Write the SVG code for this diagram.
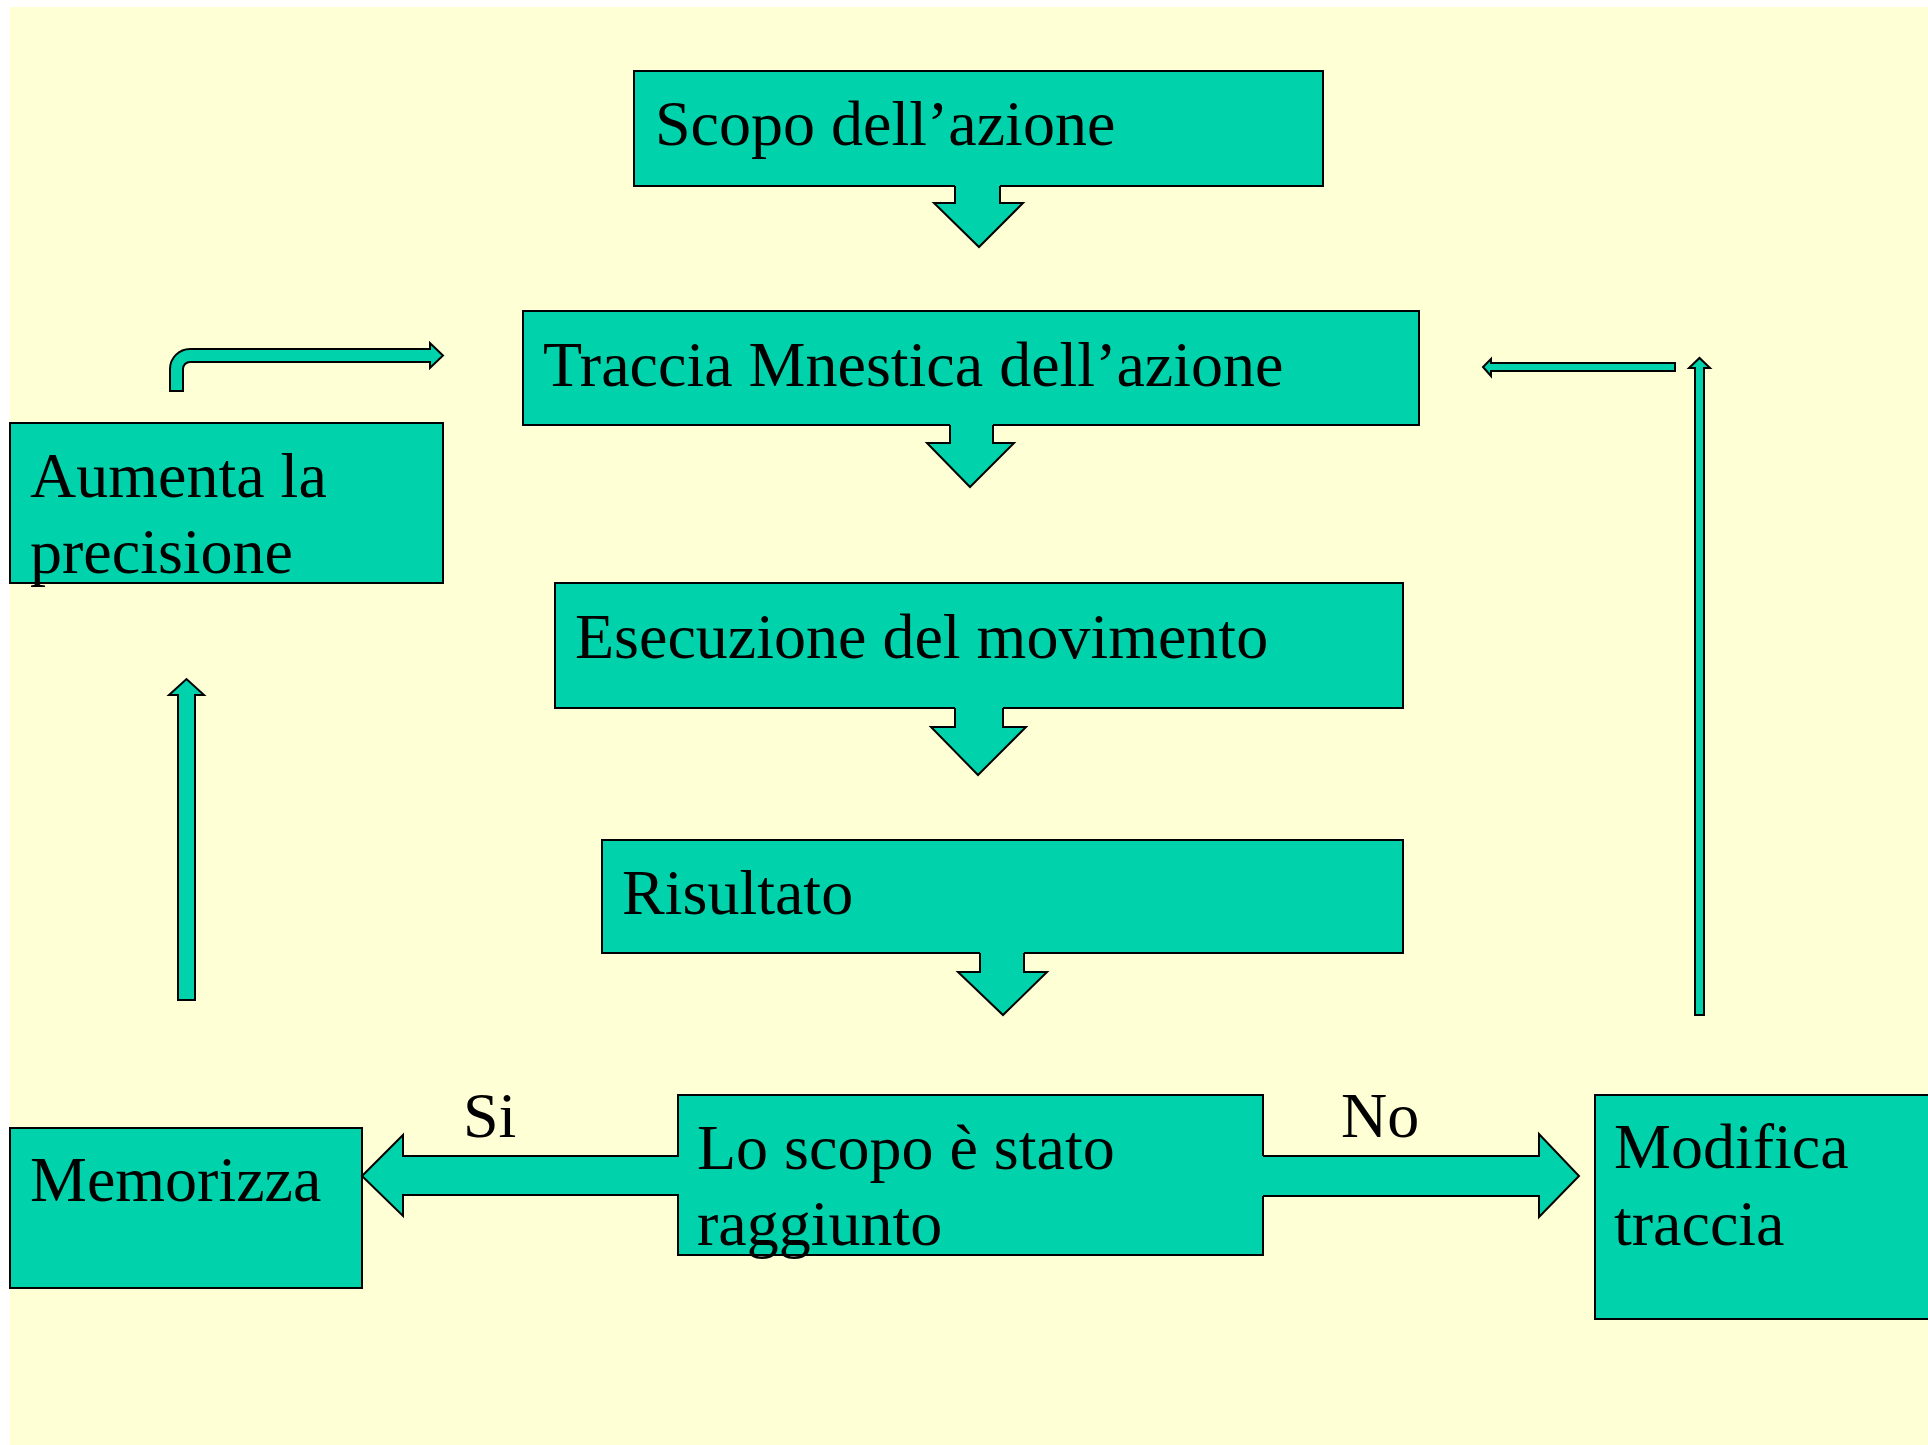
<svg xmlns="http://www.w3.org/2000/svg" width="1928" height="1445" viewBox="0 0 1928 1445">
<style>
.box{fill:#00D3AB;stroke:#000;stroke-width:2}
.fill{fill:#00D3AB;stroke:none}
.line{fill:none;stroke:#000;stroke-width:2;stroke-linejoin:miter}
.arr{fill:#00D3AB;stroke:#000;stroke-width:2;stroke-linejoin:miter}
.t{font-family:"Liberation Serif","Times New Roman",serif;font-size:64px;fill:#000}
</style>
<rect x="0" y="0" width="1928" height="1445" fill="#ffffff"/>
<rect x="10" y="7" width="1918" height="1438" fill="#FFFFD6"/>

<g id="node-scopo">
<rect class="box" x="634" y="71" width="689" height="115"/>
<text class="t" x="655" y="145">Scopo dell’azione</text>
</g>
<g id="node-traccia">
<rect class="box" x="523" y="311" width="896" height="114"/>
<text class="t" x="543" y="386">Traccia Mnestica dell’azione</text>
</g>
<g id="node-aumenta">
<rect class="box" x="10" y="423" width="433" height="160"/>
<text class="t" x="30" y="497">Aumenta la</text>
<text class="t" x="30" y="573">precisione</text>
</g>
<g id="node-esecuzione">
<rect class="box" x="555" y="583" width="848" height="125"/>
<text class="t" x="575" y="658">Esecuzione del movimento</text>
</g>
<g id="node-risultato">
<rect class="box" x="602" y="840" width="801" height="113"/>
<text class="t" x="622" y="914">Risultato</text>
</g>
<g id="node-scopo-raggiunto">
<rect class="box" x="678" y="1095" width="585" height="160"/>
</g>
<g id="node-memorizza">
<rect class="box" x="10" y="1128" width="352" height="160"/>
<text class="t" x="30" y="1201">Memorizza</text>
</g>
<g id="node-modifica">
<rect class="box" x="1595" y="1095" width="345" height="224"/>
<text class="t" x="1614" y="1168">Modifica</text>
<text class="t" x="1614" y="1245">traccia</text>
</g>

<g id="connectors">
<polygon class="fill" points="955,183 955,203 934,203 979,247 1023,203 1000,203 1000,183"/>
<polyline class="line" points="955,186 955,203 934,203 979,247 1023,203 1000,203 1000,186"/>
<polygon class="fill" points="950,422 950,443 927,443 970,487 1014,443 993,443 993,422"/>
<polyline class="line" points="950,425 950,443 927,443 970,487 1014,443 993,443 993,425"/>
<polygon class="fill" points="955,705 955,727 931,727 978,775 1026,727 1003,727 1003,705"/>
<polyline class="line" points="955,708 955,727 931,727 978,775 1026,727 1003,727 1003,708"/>
<polygon class="fill" points="980,950 980,972 958,972 1003,1015 1047,972 1024,972 1024,950"/>
<polyline class="line" points="980,953 980,972 958,972 1003,1015 1047,972 1024,972 1024,953"/>
<polygon class="fill" points="682,1156 403,1156 403,1135 362,1176 403,1216 403,1195 682,1195"/>
<polyline class="line" points="679,1156 403,1156 403,1135 362,1176 403,1216 403,1195 679,1195"/>
<polygon class="fill" points="1260,1156 1539,1156 1539,1134 1579,1176 1539,1217 1539,1196 1260,1196"/>
<polyline class="line" points="1263,1156 1539,1156 1539,1134 1579,1176 1539,1217 1539,1196 1263,1196"/>
<polygon class="arr" points="178,1000 178,695 169,695 186.5,679 204,695 195,695 195,1000"/>
<path class="arr" d="M170,391 L170,369 A20,20 0 0 1 190,349 L430,349 L430,343 L443,355.5 L430,368 L430,362 L190,362 A7,7 0 0 0 183,369 L183,391 Z"/>
<polygon class="arr" points="1695,1015 1695,368 1689,368 1699.5,358 1710,368 1704,368 1704,1015"/>
<polygon class="arr" points="1675,363 1491,363 1491,359 1483,367 1491,376 1491,371 1675,371"/>
</g>

<g id="labels">
<text class="t" x="463" y="1137">Si</text>
<text class="t" x="1341" y="1137">No</text>
</g>
<g id="decision-text">
<text class="t" x="697" y="1169">Lo scopo è stato</text>
<text class="t" x="697" y="1245">raggiunto</text>
</g>
</svg>
